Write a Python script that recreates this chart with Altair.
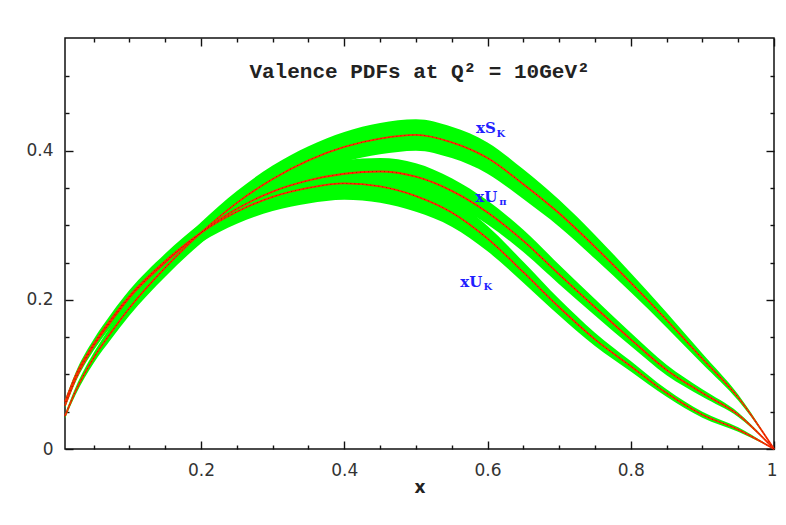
import altair as alt
import pandas as pd

# ---------------- data ----------------
x_grid = [0.01, 0.025, 0.05, 0.075, 0.1, 0.15, 0.2, 0.25, 0.3, 0.35, 0.4, 0.45,
          0.5, 0.55, 0.6, 0.65, 0.7, 0.75, 0.8, 0.85, 0.9, 0.95, 1.0]

sk_mid = [0.044, 0.078, 0.122, 0.157, 0.189, 0.243, 0.290, 0.330, 0.362, 0.387, 0.405, 0.416,
          0.421, 0.411, 0.390, 0.355, 0.316, 0.271, 0.223, 0.173, 0.121, 0.069, 0.0]
sk_err = [0.003, 0.005, 0.007, 0.009, 0.010, 0.012, 0.014, 0.016, 0.018, 0.019, 0.020, 0.021,
          0.021, 0.021, 0.021, 0.020, 0.018, 0.016, 0.013, 0.010, 0.007, 0.004, 0.0]

upi_mid = [0.058, 0.094, 0.138, 0.172, 0.203, 0.250, 0.290, 0.322, 0.345, 0.360, 0.369, 0.372,
           0.365, 0.346, 0.317, 0.279, 0.234, 0.190, 0.147, 0.106, 0.075, 0.046, 0.0]
upi_err = [0.003, 0.004, 0.006, 0.007, 0.008, 0.010, 0.012, 0.014, 0.016, 0.017, 0.018, 0.018,
           0.018, 0.017, 0.016, 0.015, 0.013, 0.011, 0.009, 0.007, 0.005, 0.003, 0.0]

uk_mid = [0.063, 0.099, 0.141, 0.175, 0.205, 0.252, 0.290, 0.318, 0.338, 0.350, 0.356, 0.352,
          0.339, 0.317, 0.282, 0.237, 0.190, 0.147, 0.111, 0.075, 0.046, 0.026, 0.0]
uk_err = [0.003, 0.004, 0.006, 0.007, 0.008, 0.010, 0.013, 0.016, 0.019, 0.021, 0.022, 0.022,
          0.021, 0.019, 0.017, 0.014, 0.011, 0.009, 0.007, 0.005, 0.004, 0.003, 0.0]

label_main = ["xS", "xU", "xU"]
label_main_x = [0.584, 0.583, 0.562]
label_main_y = [0.430, 0.338, 0.224]
label_sub = ["K", "\u03c0", "K"]
label_sub_x = [0.6125, 0.6165, 0.5945]
label_sub_y = [0.4225, 0.3315, 0.2175]

title_text = ["Valence PDFs at Q\u00b2 = 10GeV\u00b2"]
title_x = [0.505]
title_y = [0.505]

x_domain = [0.01, 1.0]
y_domain = [0.0, 0.551]
x_major = [0.2, 0.4, 0.6, 0.8, 1.0]
x_minor = [0.05, 0.1, 0.15, 0.25, 0.3, 0.35, 0.45, 0.5, 0.55, 0.65, 0.7, 0.75, 0.85, 0.9, 0.95]
y_major = [0.0, 0.2, 0.4]
y_minor = [0.05, 0.1, 0.15, 0.25, 0.3, 0.35, 0.45, 0.5]

# ---------------- tables ----------------
rows = []
for name, mid, err in [("xS_K", sk_mid, sk_err), ("xU_pi", upi_mid, upi_err), ("xU_K", uk_mid, uk_err)]:
    for xv, m, e in zip(x_grid, mid, err):
        rows.append({"x": xv, "mid": m, "lo": max(m - e, 0.0), "hi": m + e, "series": name})
df = pd.DataFrame(rows)

lab_df = pd.DataFrame({"text": label_main, "x": label_main_x, "y": label_main_y})
sub_df = pd.DataFrame({"text": label_sub, "x": label_sub_x, "y": label_sub_y})
tit_df = pd.DataFrame({"text": title_text, "x": title_x, "y": title_y})

xs = alt.Scale(domain=x_domain, nice=False, zero=False)
ys = alt.Scale(domain=y_domain, nice=False, zero=False)

base = alt.Chart(df)

bands = base.mark_area(color="#00ff00", interpolate="monotone", opacity=1).encode(
    x=alt.X("x:Q", scale=xs, axis=None),
    y=alt.Y("lo:Q", scale=ys, axis=None),
    y2="hi:Q",
    detail="series:N",
)

lines = base.mark_line(color="#ff2a00", strokeWidth=1.8, interpolate="monotone").encode(
    x=alt.X("x:Q", scale=xs, axis=None),
    y=alt.Y("mid:Q", scale=ys, axis=None),
    detail="series:N",
)

dots = base.mark_line(color="#7a0000", strokeWidth=0.8, strokeDash=[1, 3], opacity=0.7,
                      interpolate="monotone").encode(
    x=alt.X("x:Q", scale=xs, axis=None),
    y=alt.Y("mid:Q", scale=ys, axis=None),
    detail="series:N",
)

labels = alt.Chart(lab_df).mark_text(font="DejaVu Serif", fontWeight="bold", fontSize=15,
                                     color="#1f1fff", align="left", baseline="middle").encode(
    x=alt.X("x:Q", scale=xs, axis=None),
    y=alt.Y("y:Q", scale=ys, axis=None),
    text="text:N",
)

subs = alt.Chart(sub_df).mark_text(font="DejaVu Serif", fontWeight="bold", fontSize=10,
                                   color="#1f1fff", align="left", baseline="middle").encode(
    x=alt.X("x:Q", scale=xs, axis=None),
    y=alt.Y("y:Q", scale=ys, axis=None),
    text="text:N",
)

title = alt.Chart(tit_df).mark_text(font="Liberation Mono", fontWeight="bold", fontSize=21,
                                    color="#222222", align="center", baseline="middle").encode(
    x=alt.X("x:Q", scale=xs, axis=None),
    y=alt.Y("y:Q", scale=ys, axis=None),
    text="text:N",
)

TICK_COLOR = "#111111"


def axis_layer(xaxis, yaxis):
    return base.mark_point(opacity=0).encode(
        x=alt.X("x:Q", scale=xs, axis=xaxis),
        y=alt.Y("mid:Q", scale=ys, axis=yaxis),
    )


lab_layer = axis_layer(
    alt.Axis(orient="bottom", values=x_major, format=".1~f", ticks=False, tickSize=0, domain=False,
             grid=False, labelFont="DejaVu Sans", labelFontSize=17, labelColor="#333333",
             labelPadding=13, labelFlush=True, labelFlushOffset=3, title="x",
             titleFont="DejaVu Sans", titleFontSize=17, titleFontWeight="bold",
             titleColor="#222222", titlePadding=1),
    alt.Axis(orient="left", values=y_major, format=".1~f", ticks=False, tickSize=0, domain=False,
             grid=False, labelFont="DejaVu Sans", labelFontSize=17, labelColor="#333333",
             labelPadding=12, labelFlush=False, title=None),
)


def tick_axis(orient, vals, size):
    return alt.Axis(orient=orient, values=vals, ticks=True, tickSize=size, offset=-size,
                    tickColor=TICK_COLOR, tickWidth=1.4, labels=False, domain=False,
                    grid=False, title=None)


maj_in = axis_layer(tick_axis("bottom", x_major, 8), tick_axis("left", y_major, 8))
min_in = axis_layer(tick_axis("bottom", x_minor, 4), tick_axis("left", y_minor, 4))
maj_out = axis_layer(tick_axis("top", x_major, 8), tick_axis("right", y_major, 8))
min_out = axis_layer(tick_axis("top", x_minor, 4), tick_axis("right", y_minor, 4))

chart = alt.layer(
    bands, lines, dots, labels, subs, title, lab_layer, maj_in, min_in, maj_out, min_out
).resolve_axis(
    x="independent", y="independent"
).properties(
    width=709,
    height=411,
    autosize=alt.AutoSizeParams(type="none"),
    padding={"left": 57, "top": 30, "right": 4, "bottom": 60},
    background="white",
).configure_view(
    stroke="#111111", strokeWidth=1.5
)

chart.save("out.html", embed_options={"renderer": "svg", "actions": False})
